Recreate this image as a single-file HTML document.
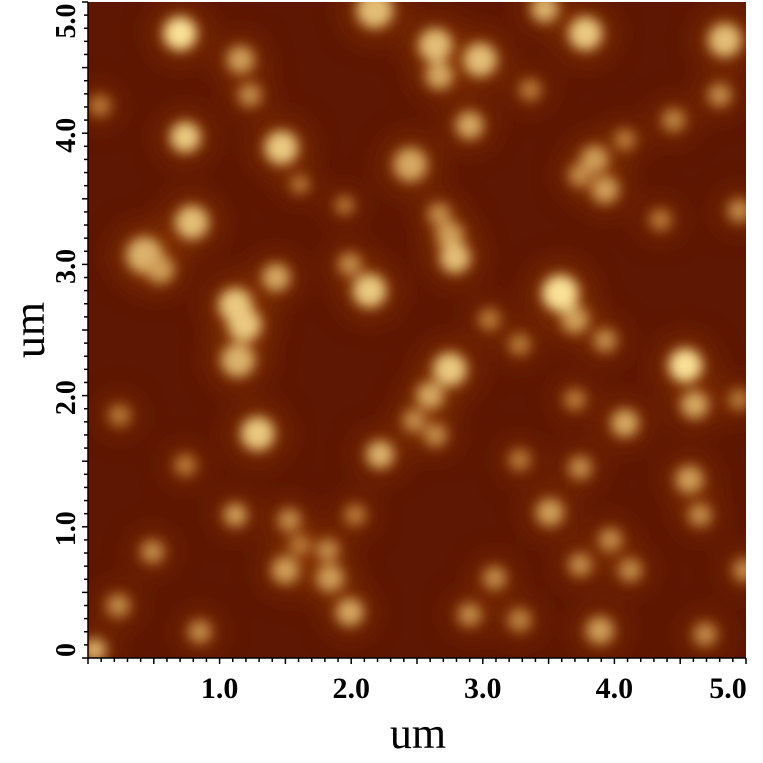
<!DOCTYPE html>
<html><head><meta charset="utf-8"><style>
html,body{margin:0;padding:0;background:#fff;}
svg{display:block;font-family:"Liberation Serif",serif;}
</style></head><body>
<svg id="chart" width="763" height="763" viewBox="0 0 763 763">
<defs>
<filter id="blur" x="-50%" y="-50%" width="200%" height="200%"><feGaussianBlur stdDeviation="6"/></filter>
<filter id="blur2" x="-50%" y="-50%" width="200%" height="200%"><feGaussianBlur stdDeviation="14"/></filter>
<clipPath id="clip"><rect x="88" y="2" width="658" height="656"/></clipPath>
</defs>
<g id="plot" clip-path="url(#clip)">
<rect x="88" y="2" width="658" height="656" fill="#5e1702"/>
<g id="shade" filter="url(#blur2)"></g>
<g id="blobs" filter="url(#blur)"></g>
</g>
<g id="axes"></g>
<text x="418" y="748" font-size="44" text-anchor="middle">um</text>
<text transform="translate(44,330) rotate(-90)" font-size="44" text-anchor="middle">um</text>
</svg>
<script>
const xTicks=[1.0,2.0,3.0,4.0,5.0];
const xTickLabels=["1.0","2.0","3.0","4.0","5.0"];
const yTicks=[0,1.0,2.0,3.0,4.0,5.0];
const yTickLabels=["0","1.0","2.0","3.0","4.0","5.0"];
// grain centers (um), radius (um), brightness (0-1)
const grainX=[.70,1.16,1.23,.74,1.47,.79,.43,.55,1.43,1.12,1.19,1.14,1.29,1.12,.49,.23,.85,1.53,1.50,1.61,1.84,1.99,1.82,2.03,2.22,2.14,1.99,2.45,2.18,2.64,2.67,2.98,2.90,3.47,3.78,3.85,3.93,3.74,4.08,2.75,2.79,2.67,3.59,3.70,2.75,2.60,2.48,2.64,3.05,3.28,4.54,4.61,3.93,4.08,3.74,3.70,3.51,3.74,3.89,4.12,3.97,4.57,4.65,4.69,4.99,4.84,4.80,4.95,4.45,.09,.24,.74,3.09,2.90,3.28,4.95,.05,3.28,4.35,1.61,1.95,3.36];
const grainY=[4.76,4.56,4.29,3.97,3.89,3.32,3.07,2.96,2.90,2.69,2.54,2.27,1.71,1.09,.81,.40,.20,1.05,.67,.86,.61,.35,.82,1.09,1.55,2.80,3.00,3.76,4.94,4.67,4.44,4.56,4.06,4.95,4.76,3.80,3.57,3.68,3.95,3.22,3.05,3.38,2.78,2.58,2.20,2.00,1.81,1.70,2.58,2.39,2.23,1.93,2.42,1.79,1.45,1.97,1.11,.71,.21,.67,.90,1.36,1.09,.18,.67,4.71,4.29,3.41,4.10,4.21,1.85,1.47,.61,.33,.29,1.97,.06,1.51,3.34,3.61,3.45,4.33];
const grainR=[.11,.09,.076,.1,.11,.11,.12,.09,.09,.11,.11,.11,.11,.076,.076,.076,.076,.076,.09,.07,.09,.09,.076,.07,.09,.11,.076,.11,.12,.11,.09,.11,.09,.09,.11,.09,.09,.076,.07,.09,.1,.076,.12,.09,.11,.09,.076,.076,.07,.07,.11,.09,.076,.09,.076,.07,.09,.076,.09,.076,.076,.09,.076,.076,.076,.11,.076,.076,.076,.07,.07,.07,.076,.076,.076,.07,.076,.07,.07,.06,.06,.07];
const grainB=[1,.7,.6,.9,.9,.85,.8,.7,.75,.9,.9,.8,.9,.7,.6,.6,.6,.6,.7,.5,.7,.75,.6,.5,.8,.9,.6,.75,.85,.85,.75,.85,.75,.8,.9,.7,.7,.6,.5,.7,.85,.6,1,.7,.9,.75,.6,.6,.5,.5,1,.75,.6,.75,.6,.5,.7,.6,.7,.6,.6,.7,.6,.6,.6,.85,.6,.6,.55,.5,.5,.5,.6,.6,.55,.5,.8,.5,.5,.5,.5,.5];
const X0=88,X1=746,Y0=658,Y1=2;
const sx=v=>X0+v/5*(X1-X0);
const sy=v=>Y0-v/5*(Y0-Y1);
const sr=v=>v/5*(X1-X0);
const NS="http://www.w3.org/2000/svg";
function col(b){const c0=[150,70,10],c1=[250,225,150];
const t=Math.pow(b,1.6);return `rgb(${c0.map((c,i)=>Math.round(c+(c1[i]-c)*t)).join(",")})`;}
const shade=document.getElementById('shade');
const blobs=document.getElementById('blobs');
for(let i=0;i<grainX.length;i++){
 const h=document.createElementNS(NS,'circle');
 h.setAttribute('cx',sx(grainX[i]));h.setAttribute('cy',sy(grainY[i]));
 h.setAttribute('r',sr(grainR[i])*2);h.setAttribute('fill','#8a3606');h.setAttribute('opacity','0.75');
 
 
 shade.appendChild(h);
 const c=document.createElementNS(NS,'circle');
 c.setAttribute('cx',sx(grainX[i]));c.setAttribute('cy',sy(grainY[i]));
 c.setAttribute('r',sr(grainR[i])*1.15);c.setAttribute('fill',col(grainB[i]));
 
 
 blobs.appendChild(c);
}
const axes=document.getElementById('axes');
function line(x1,y1,x2,y2,name){const l=document.createElementNS(NS,'line');
 l.setAttribute('x1',x1);l.setAttribute('y1',y1);l.setAttribute('x2',x2);l.setAttribute('y2',y2);
 l.setAttribute('stroke','#000');l.setAttribute('stroke-width','1.5');
 
 
 axes.appendChild(l);}
line(X0,Y0,X1,Y0,'x-axis-line');line(X0,Y0,X0,Y1,'y-axis-line');
for(let k=0;k<=50;k++){const v=k/10;const len=(k%5===0)?6:4;
 line(sx(v),Y0,sx(v),Y0+len,'x-tick');line(X0,sy(v),X0-len,sy(v),'y-tick');}
xTicks.forEach((v,i)=>{const t=document.createElementNS(NS,'text');
 t.setAttribute('x',Math.min(sx(v),728));t.setAttribute('y',698);t.setAttribute('font-size','30');t.setAttribute('font-weight','bold');
 t.setAttribute('text-anchor','middle');t.textContent=xTickLabels[i];
 
 
 axes.appendChild(t);});
yTicks.forEach((v,i)=>{const t=document.createElementNS(NS,'text');
 const yy=v===0?sy(v)-8:Math.max(sy(v)+2,21);
 t.setAttribute('transform',`translate(75,${yy}) rotate(-90)`);t.setAttribute('font-size','28');t.setAttribute('font-weight','bold');
 t.setAttribute('text-anchor','middle');t.textContent=yTickLabels[i];
 
 
 axes.appendChild(t);});
</script>
</body></html>
